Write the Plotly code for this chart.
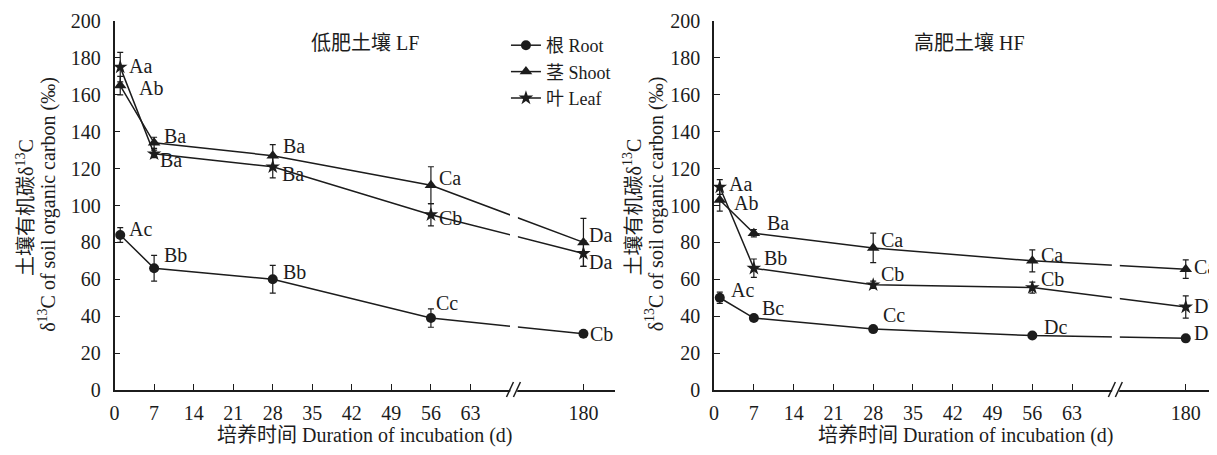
import plotly.graph_objects as go

# ---------------- data ----------------
days = [1, 7, 28, 56, 180]
xtick_days = [0, 7, 14, 21, 28, 35, 42, 49, 56, 63, 180]

lf_root = [84, 66, 60, 39, 30.5]
lf_root_err = [4, 7, 7.5, 5, 1]
lf_shoot = [165, 134, 127, 111, 80]
lf_shoot_err = [5, 3, 6, 10, 13]
lf_leaf = [175, 128, 121, 95, 74]
lf_leaf_err = [8, 2, 6, 6, 7]

hf_root = [50, 39, 33, 29.5, 28]
hf_root_err = [3, 1, 1, 1, 1]
hf_shoot = [103, 85, 77, 70, 65.5]
hf_shoot_err = [6, 2, 8, 6, 5]
hf_leaf = [110, 66, 57, 55.5, 45]
hf_leaf_err = [4, 5, 2, 3, 6]

lf_root_lbl = ["Ac", "Bb", "Bb", "Cc", "Cb"]
lf_shoot_lbl = ["Ab", "Ba", "Ba", "Ca", "Da"]
lf_leaf_lbl = ["Aa", "Ba", "Ba", "Cb", "Da"]
hf_root_lbl = ["Ac", "Bc", "Cc", "Dc", "Dc"]
hf_shoot_lbl = ["Ab", "Ba", "Ca", "Ca", "Ca"]
hf_leaf_lbl = ["Aa", "Bb", "Cb", "Cb", "Db"]

series_names = ["根 Root", "茎 Shoot", "叶 Leaf"]
panel_titles = ["低肥土壤 LF", "高肥土壤 HF"]
x_title = "培养时间 Duration of incubation (d)"
y_title_1 = "土壤有机碳δ<sup>13</sup>C"
y_title_2 = "δ<sup>13</sup>C of soil organic carbon (‰)"

# ---------------- styling / layout helpers ----------------
OFF = 8                      # page body margin
W, H = 1217 - OFF, 455 - 2 * OFF
TOP, BOT = 21, 390           # reference-pixel plot top/bottom
BREAK_POS = 83.0             # axis position used for day 180 (broken axis)
XMAX = 88.5
BREAK_MARK = 70.7

def axpos(d):
    return d if d <= 63 else BREAK_POS

FONT = "Liberation Serif, 'Times New Roman', 'Noto Sans CJK SC', serif"
INK = "#1c1c1c"
FS = 20

label_off = {
    "lf_root": [(7, 6), (8, 13), (8, 7), (3, 15), (5, 0)],
    "lf_shoot": [(17, -2), (8, 7), (8, 10), (6, 7), (4, 7)],
    "lf_leaf": [(7, 1), (4, -6), (7, -7), (6, -3), (4, -9)],
    "hf_root": [(9, 8), (6, 10), (8, 14), (10, 9), (6, 5)],
    "hf_shoot": [(12, -3), (11, 10), (6, 8), (7, 6), (6, 2)],
    "hf_leaf": [(7, 3), (8, 10), (6, 11), (7, 9), (6, 1)],
}

def px2x(px):
    return (px - OFF) / W

def px2y(py):
    return (BOT - py) / (BOT - TOP)

fig = go.Figure()
xs = [axpos(d) for d in days]

panels = [
    ("x", "y", [(lf_root, lf_root_err, lf_root_lbl, "lf_root"),
                (lf_shoot, lf_shoot_err, lf_shoot_lbl, "lf_shoot"),
                (lf_leaf, lf_leaf_err, lf_leaf_lbl, "lf_leaf")], True),
    ("x2", "y2", [(hf_root, hf_root_err, hf_root_lbl, "hf_root"),
                  (hf_shoot, hf_shoot_err, hf_shoot_lbl, "hf_shoot"),
                  (hf_leaf, hf_leaf_err, hf_leaf_lbl, "hf_leaf")], False),
]
symbols = ["circle", "triangle-up", "star"]
sizes = [10, 11, 11]

annotations = []
for xa, ya, sers, showleg in panels:
    for i, (vals, errs, lbls, key) in enumerate(sers):
        fig.add_trace(go.Scatter(
            x=xs, y=vals, xaxis=xa, yaxis=ya, mode="lines+markers",
            name=series_names[i], showlegend=showleg,
            line=dict(color=INK, width=1.5),
            marker=dict(symbol=symbols[i], size=sizes[i], color=INK),
            error_y=dict(type="data", array=errs, visible=True,
                         color=INK, thickness=1.2, width=3),
            cliponaxis=False,
        ))
        for j, (xv, yv, t) in enumerate(zip(xs, vals, lbls)):
            dx, dy = label_off[key][j]
            annotations.append(dict(
                x=xv, y=yv, xref=xa, yref=ya, text=t, showarrow=False,
                xanchor="left", yanchor="middle", xshift=dx, yshift=dy,
                font=dict(family=FONT, size=FS, color=INK)))

def paper_text(cx, cy, text, angle=0):
    return dict(x=px2x(cx), y=px2y(cy), xref="paper", yref="paper",
                xanchor="center", yanchor="middle", text=text,
                showarrow=False, textangle=angle,
                font=dict(family=FONT, size=FS, color=INK))

for cx, title in zip([361, 968], panel_titles):
    annotations.append(paper_text(cx, 43, title))
for cx in [361, 965]:
    annotations.append(paper_text(cx, 435, x_title))
for cx1, cx2 in [(20, 42), (630, 652)]:
    annotations.append(paper_text(cx1, 207, y_title_1, -90))
    annotations.append(paper_text(cx2, 204, y_title_2, -90))

# axis-break decorations
shapes = []
for xa, ya, x0px, x1px in [("x", "y", 110, 612), ("x2", "y2", 712, 1217)]:
    shapes.append(dict(type="rect", xref=xa, yref=ya, x0=BREAK_MARK - 0.7,
                       x1=BREAK_MARK + 0.7, y0=1.2, y1=199, fillcolor="white",
                       line=dict(width=0), layer="above"))
    bx = x0px + BREAK_MARK * (x1px - x0px) / XMAX
    shapes.append(dict(type="path", xref="paper", yref="paper",
                       path=(f"M {px2x(bx-4)},{px2y(393)} L {px2x(bx+3)},{px2y(393)} "
                             f"L {px2x(bx+4)},{px2y(387)} L {px2x(bx-3)},{px2y(387)} Z"),
                       fillcolor="white", line=dict(width=0), layer="above"))
    for s in (-4, 3):
        shapes.append(dict(type="line", xref="paper", yref="paper",
                           x0=px2x(bx + s - 3.5), y0=px2y(397),
                           x1=px2x(bx + s + 3.5), y1=px2y(382),
                           line=dict(color=INK, width=1.5), layer="above"))

tickvals = [axpos(d) for d in xtick_days]
ticktext = [str(d) for d in xtick_days]

xcommon = dict(range=[0, XMAX], tickvals=tickvals, ticktext=ticktext,
               showline=True, linecolor=INK, linewidth=1.5, ticks="inside",
               ticklen=6, tickwidth=1.2, tickcolor=INK, showgrid=False,
               zeroline=False, ticklabelstandoff=4,
               tickfont=dict(family=FONT, size=FS, color=INK))
ycommon = dict(range=[0, 200], tickvals=list(range(0, 201, 20)),
               showline=True, linecolor=INK, linewidth=1.5, ticks="inside",
               ticklen=6, tickwidth=1.2, tickcolor=INK, showgrid=False,
               zeroline=False, ticklabelstandoff=8,
               tickfont=dict(family=FONT, size=FS, color=INK))

fig.update_layout(
    width=W, height=H,
    margin=dict(l=0, r=0, t=TOP - OFF, b=H - (BOT - OFF)),
    paper_bgcolor="white", plot_bgcolor="white",
    xaxis=dict(domain=[(110 - OFF) / W, (612 - OFF) / W], anchor="y", **xcommon),
    xaxis2=dict(domain=[(712 - OFF) / W, 1.0], anchor="y2", **xcommon),
    yaxis=dict(domain=[0, 1], anchor="x", **ycommon),
    yaxis2=dict(domain=[0, 1], anchor="x2", **ycommon),
    legend=dict(x=px2x(503), y=px2y(27), xanchor="left", yanchor="top",
                bgcolor="rgba(0,0,0,0)", borderwidth=0, tracegroupgap=0,
                itemwidth=30,
                font=dict(family=FONT, size=18, color=INK)),
    annotations=annotations,
    shapes=shapes,
    showlegend=True,
)

fig.write_html("out.html")
